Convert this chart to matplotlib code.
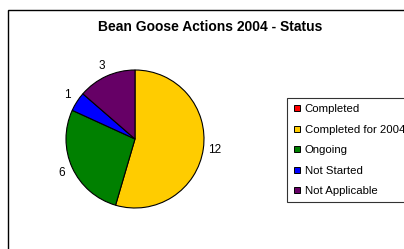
import matplotlib
matplotlib.use("Agg")
import matplotlib.pyplot as plt
from matplotlib.lines import Line2D
from matplotlib.patches import Rectangle

categories = ["Completed", "Completed for 2004", "Ongoing", "Not Started", "Not Applicable"]
values = [0, 12, 6, 1, 3]
colors = ["#FF0000", "#FFCC00", "#008000", "#0000FF", "#660066"]
title = "Bean Goose Actions 2004 - Status"

plt.rcParams['font.family'] = ['Liberation Sans', 'DejaVu Sans']

W, H = 404, 249
fig = plt.figure(figsize=(W / 100, H / 100), dpi=100)
fig.patch.set_facecolor("white")

# outer frame
fig.patches.append(Rectangle((8 / W, -0.1), 1.2, (H - 10) / H + 0.1, transform=fig.transFigure,
                             fill=False, edgecolor="black", linewidth=1.0))

fig.text(210 / W, 1 - 27 / H, title, ha="center", va="center", fontsize=10, fontweight="bold")

# pie axes: center (135,139) px, radius 69 px
cx, cy, R = 135, 139, 69
aw = 240
ax = fig.add_axes([(cx - aw / 2) / W, (H - cy - aw / 2) / H, aw / W, aw / H])

labels = [str(v) if v > 0 else "" for v in values]
wedges, texts = ax.pie(values, colors=colors, startangle=90, counterclock=False,
                       labels=labels, labeldistance=1.17,
                       wedgeprops=dict(edgecolor="black", linewidth=0.8),
                       textprops=dict(fontsize=8.5))
ax.set_xlim(-aw / 2 / R, aw / 2 / R)
ax.set_ylim(-aw / 2 / R, aw / 2 / R)
ax.axis("off")
for t in texts:
    t.set_ha("center")
    t.set_va("center")

handles = [Line2D([], [], marker="s", linestyle="none", markersize=5,
                  markerfacecolor=c, markeredgecolor="black", markeredgewidth=0.7)
           for c in colors]
leg = fig.legend(handles, categories, loc="upper left",
                 bbox_to_anchor=(287 / W, 1 - 98 / H), fontsize=8.2,
                 frameon=True, fancybox=False, edgecolor="black",
                 handlelength=0.6, handletextpad=0.4, labelspacing=0.92,
                 borderpad=0.55, borderaxespad=0)
leg.get_frame().set_linewidth(0.8)

fig.savefig("out.png", dpi=100)
